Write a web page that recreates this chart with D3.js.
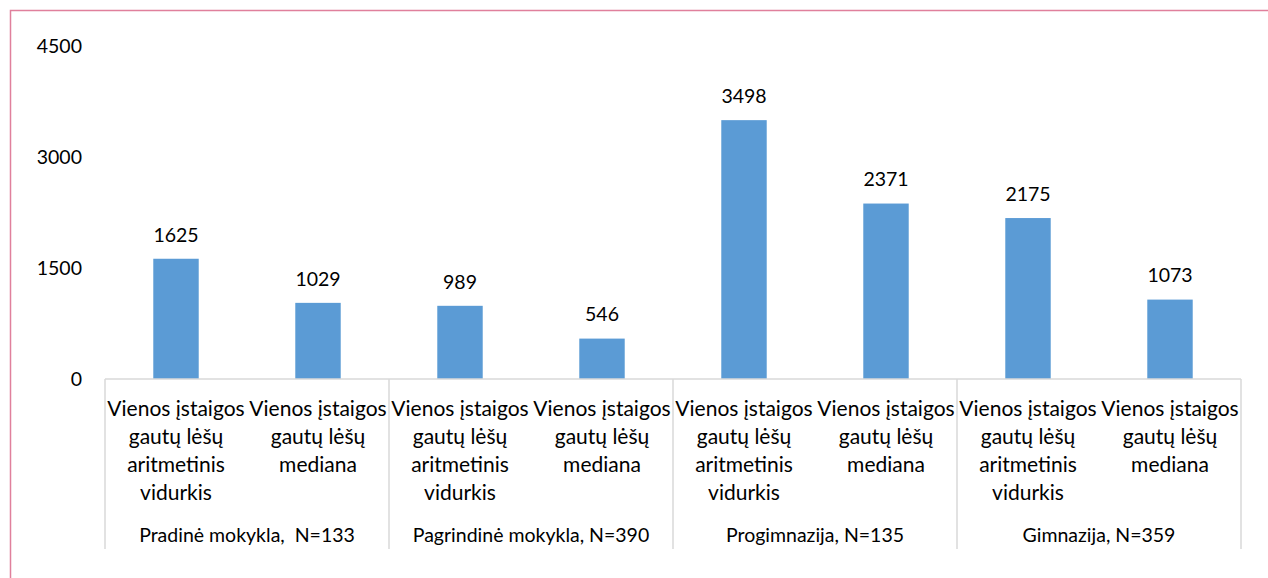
<!DOCTYPE html>
<html>
<head>
<meta charset="utf-8">
<script src="https://cdn.jsdelivr.net/npm/d3@7"></script>
<style>
  body { margin: 0; background: #fff; }
  svg text { font-family: Lato, "Open Sans", sans-serif; fill: #000; }
</style>
</head>
<body>
<svg id="chart" width="1268" height="578"></svg>
<script>
const groups = ['Pradinė mokykla,  N=133', 'Pagrindinė mokykla, N=390', 'Progimnazija, N=135', 'Gimnazija, N=359'];
const measures = ['Vienos įstaigos gautų lėšų aritmetinis vidurkis', 'Vienos įstaigos gautų lėšų mediana'];
const measureLines = [
	['Vienos įstaigos', 'gautų lėšų', 'aritmetinis', 'vidurkis'],
	['Vienos įstaigos', 'gautų lėšų', 'mediana']
];
const values = [1625, 1029, 989, 546, 3498, 2371, 2175, 1073];
const yTicks = [0, 1500, 3000, 4500];

const svg = d3.select('#chart');

const margin = { left: 105, right: 1241, top: 46, bottom: 379 };

// border of the chart area
svg.append('path')
	.attr('d', 'M 10.5 578 L 10.5 10.5 L 1268 10.5')
	.attr('fill', 'none')
	.attr('stroke', '#e0809c')
	.attr('stroke-width', 1.5);

const data = [];
groups.forEach((g, gi) => {
	measures.forEach((m, mi) => {
		data.push({ key: gi + '-' + mi, group: gi, measure: mi, value: values[gi * 2 + mi] });
	});
});

const x = d3.scaleBand()
	.domain(data.map((d) => d.key))
	.range([margin.left, margin.right])
	.paddingInner(0.68)
	.paddingOuter(0.34);

const xGroup = d3.scaleBand()
	.domain(groups)
	.range([margin.left, margin.right]);

const y = d3.scaleLinear()
	.domain([0, 4500])
	.range([margin.bottom, margin.top]);

// y axis labels (no axis line, no gridlines)
svg.append('g')
	.selectAll('text')
	.data(yTicks)
	.enter()
	.append('text')
	.attr('x', 82)
	.attr('y', (d) => y(d))
	.attr('dy', '0.35em')
	.attr('text-anchor', 'end')
	.attr('font-size', 19.5)
	.text((d) => d);

// bars
svg.append('g')
	.selectAll('rect')
	.data(data)
	.enter()
	.append('rect')
	.attr('x', (d) => x(d.key))
	.attr('width', x.bandwidth())
	.attr('y', (d) => y(d.value))
	.attr('height', (d) => y(0) - y(d.value))
	.attr('fill', '#5b9bd5');

// value labels
svg.append('g')
	.selectAll('text')
	.data(data)
	.enter()
	.append('text')
	.attr('x', (d) => x(d.key) + x.bandwidth() / 2)
	.attr('y', (d) => y(d.value) - 24)
	.attr('dy', '0.35em')
	.attr('text-anchor', 'middle')
	.attr('font-size', 19.5)
	.text((d) => d.value);

// x axis line and group dividers
const axis = svg.append('g').attr('stroke', '#d9d9d9').attr('stroke-width', 1.5);
axis.append('line')
	.attr('x1', margin.left).attr('x2', margin.right)
	.attr('y1', margin.bottom).attr('y2', margin.bottom);

const dividers = groups.map((g) => xGroup(g)).concat([margin.right]);
axis.selectAll('.divider')
	.data(dividers)
	.enter()
	.append('line')
	.attr('x1', (d) => d).attr('x2', (d) => d)
	.attr('y1', margin.bottom).attr('y2', 549);

// category labels
const catLabels = svg.append('g')
	.selectAll('text')
	.data(data)
	.enter()
	.append('text')
	.attr('text-anchor', 'middle')
	.attr('font-size', 21);

catLabels.selectAll('tspan')
	.data((d) => measureLines[d.measure].map((line) => ({ line, cx: x(d.key) + x.bandwidth() / 2 })))
	.enter()
	.append('tspan')
	.attr('x', (d) => d.cx)
	.attr('y', (d, i) => 409 + i * 28)
	.attr('dy', '0.35em')
	.text((d) => d.line);

// group labels
svg.append('g')
	.selectAll('text')
	.data(groups)
	.enter()
	.append('text')
	.attr('x', (d) => xGroup(d) + xGroup.bandwidth() / 2)
	.attr('y', 535)
	.attr('dy', '0.35em')
	.attr('text-anchor', 'middle')
	.attr('font-size', 19.5)
	.style('white-space', 'pre')
	.text((d) => d);
</script>
</body>
</html>
